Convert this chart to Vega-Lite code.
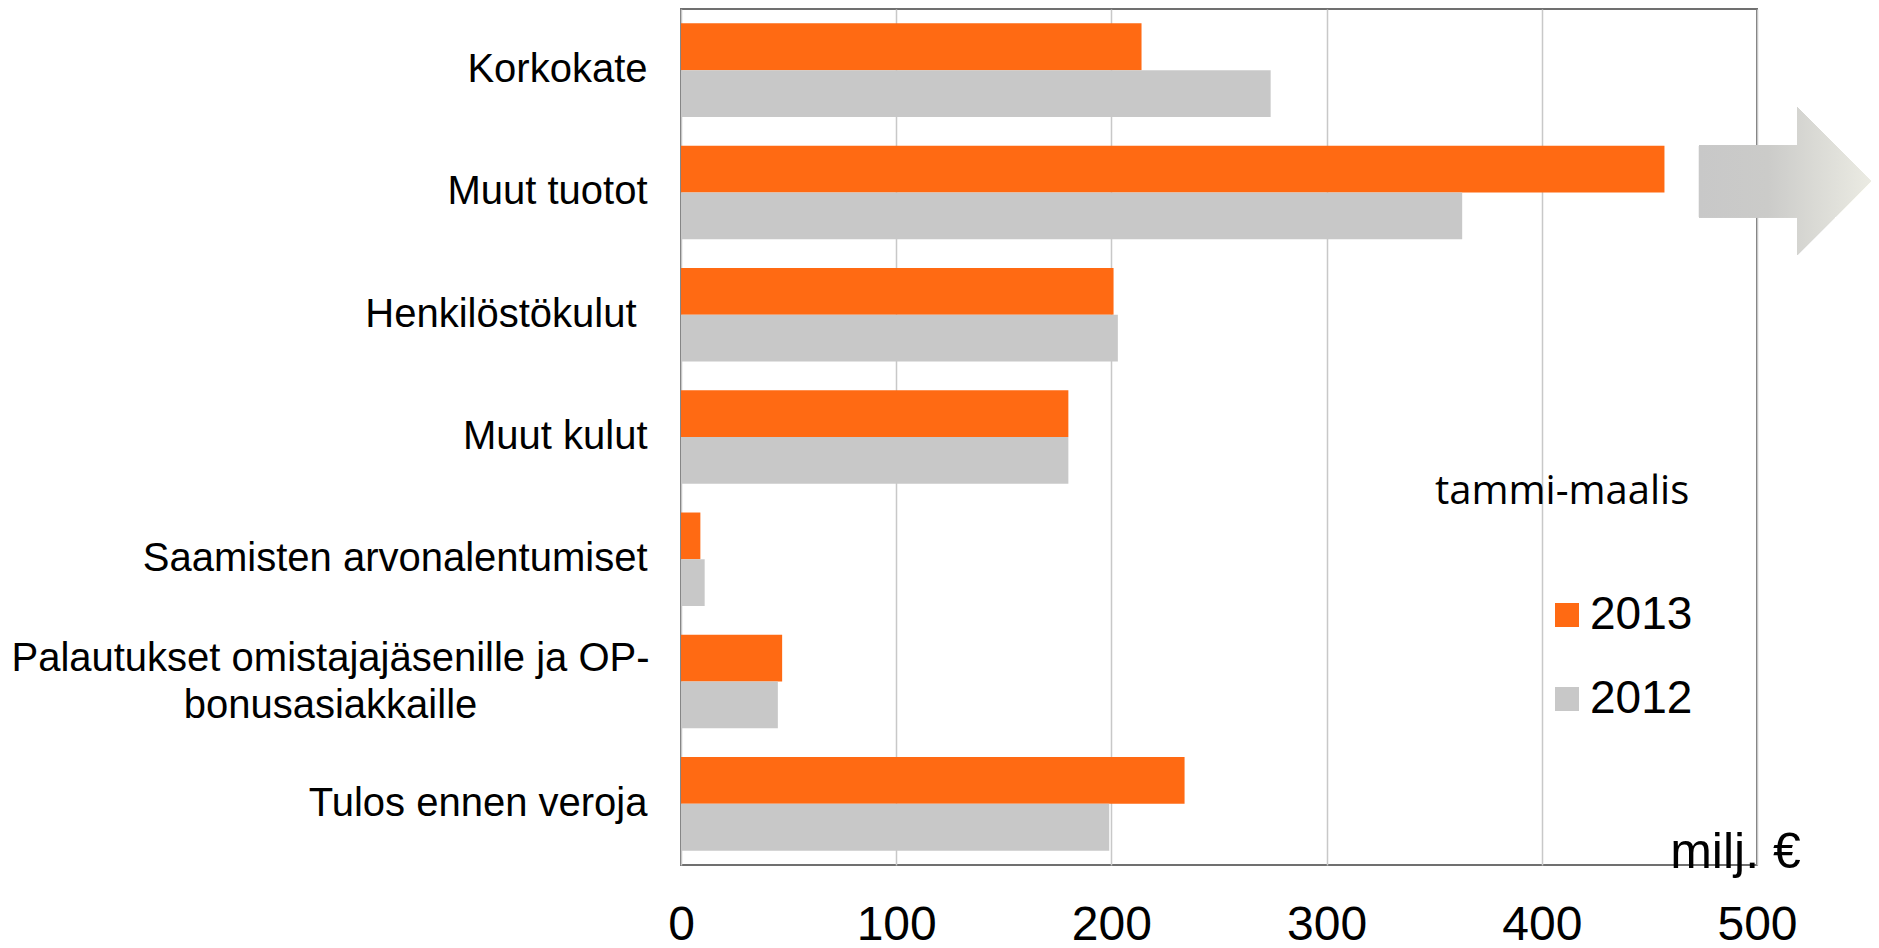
{
  "$schema": "https://vega.github.io/schema/vega-lite/v6.json",
  "autosize": {"type": "none"},
  "padding": {"left": 681, "top": 9, "right": 122, "bottom": 83},
  "width": 1076,
  "height": 856,
  "background": "white",
  "config": {
    "view": {"stroke": "#707070", "strokeWidth": 2},
    "font": "Liberation Sans"
  },
  "data": {
    "values": [
      {"category": "Korkokate", "year": "2013", "value": 214},
      {"category": "Korkokate", "year": "2012", "value": 274},
      {"category": "Muut tuotot", "year": "2013", "value": 457},
      {"category": "Muut tuotot", "year": "2012", "value": 363},
      {"category": "Henkilöstökulut", "year": "2013", "value": 201},
      {"category": "Henkilöstökulut", "year": "2012", "value": 203},
      {"category": "Muut kulut", "year": "2013", "value": 180},
      {"category": "Muut kulut", "year": "2012", "value": 180},
      {"category": "Saamisten arvonalentumiset", "year": "2013", "value": 9},
      {"category": "Saamisten arvonalentumiset", "year": "2012", "value": 11},
      {"category": "Palautukset omistajajäsenille ja OP-bonusasiakkaille", "year": "2013", "value": 47},
      {"category": "Palautukset omistajajäsenille ja OP-bonusasiakkaille", "year": "2012", "value": 45},
      {"category": "Tulos ennen veroja", "year": "2013", "value": 234},
      {"category": "Tulos ennen veroja", "year": "2012", "value": 199}
    ]
  },
  "layer": [
    {
      "mark": {"type": "bar", "stroke": null},
      "encoding": {
        "y": {
          "field": "category",
          "type": "nominal",
          "sort": null,
          "scale": {"paddingInner": 0.235, "paddingOuter": 0.1175},
          "axis": {
            "title": null,
            "domain": false,
            "ticks": false,
            "grid": false,
            "labelFont": "Liberation Sans",
            "labelFontSize": 40,
            "labelColor": "black",
            "labelLimit": 0,
            "labelLineHeight": 47,
            "labelPadding": {"condition": [{"test": "indexof(datum.label, 'Palautukset') == 0", "value": 351}, {"test": "datum.label == 'Henkilöstökulut'", "value": 45}], "value": 34},
            "labelAlign": {"condition": {"test": "indexof(datum.label, 'Palautukset') == 0", "value": "center"}, "value": "right"},
            "labelOffset": {"condition": {"test": "indexof(datum.label, 'Palautukset') == 0", "value": -23}, "value": 0},
            "labelExpr": "indexof(datum.label, 'Palautukset') == 0 ? ['Palautukset omistajajäsenille ja OP-', 'bonusasiakkaille'] : datum.label"
          }
        },
        "yOffset": {"field": "year", "type": "nominal", "sort": ["2013", "2012"], "scale": {"paddingInner": 0, "paddingOuter": 0}},
        "x": {
          "field": "value",
          "type": "quantitative",
          "scale": {"domain": [0, 500], "nice": false},
          "axis": {
            "values": [0, 100, 200, 300, 400, 500],
            "grid": true,
            "gridColor": "#c8c8c8",
            "gridWidth": 1.5,
            "domain": false,
            "ticks": false,
            "labelFont": "Liberation Sans",
            "labelFontSize": 48,
            "labelColor": "black",
            "labelPadding": 36,
            "labelFlush": false,
            "title": "milj. €",
            "titleFont": "Liberation Sans",
            "titleFontSize": 50,
            "titleFontWeight": "normal",
            "titleColor": "black",
            "titleAlign": "center",
            "titleBaseline": "alphabetic",
            "titleX": 1054,
            "titleY": 2
          }
        },
        "color": {
          "field": "year",
          "type": "nominal",
          "scale": {"domain": ["2013", "2012"], "range": ["#FF6A13", "#C8C8C8"]},
          "legend": {
            "orient": "none",
            "legendX": 754,
            "legendY": 463,
            "title": "tammi-maalis",
            "titleFont": "Open Sans",
            "titleFontSize": 40,
            "titleFontWeight": "normal",
            "titleColor": "black",
            "titleLimit": 500,
            "titlePadding": 80,
            "labelFont": "Liberation Sans",
            "labelFontSize": 46,
            "labelColor": "black",
            "labelLimit": 300,
            "symbolType": "square",
            "symbolSize": 576,
            "symbolStrokeWidth": 0,
            "symbolOffset": 109,
            "labelOffset": 0,
            "rowPadding": 38
          }
        }
      }
    },
    {
      "mark": {
        "type": "point",
        "shape": "M -1 -0.55 L 0.14 -0.55 L 0.14 -0.99 L 1 -0.13 L 0.14 0.73 L 0.14 0.29 L -1 0.29 Z",
        "size": 29584,
        "filled": true,
        "opacity": 1,
        "strokeWidth": 0,
        "fill": {"gradient": "linear", "x1": 0, "x2": 1, "y1": 0, "y2": 0, "stops": [{"offset": 0, "color": "#c8c8c8"}, {"offset": 0.4, "color": "#cbcbc9"}, {"offset": 1, "color": "#ebebe3"}]}
      },
      "encoding": {
        "x": {"datum": 513},
        "y": {"datum": "Muut tuotot"}
      }
    }
  ]
}
